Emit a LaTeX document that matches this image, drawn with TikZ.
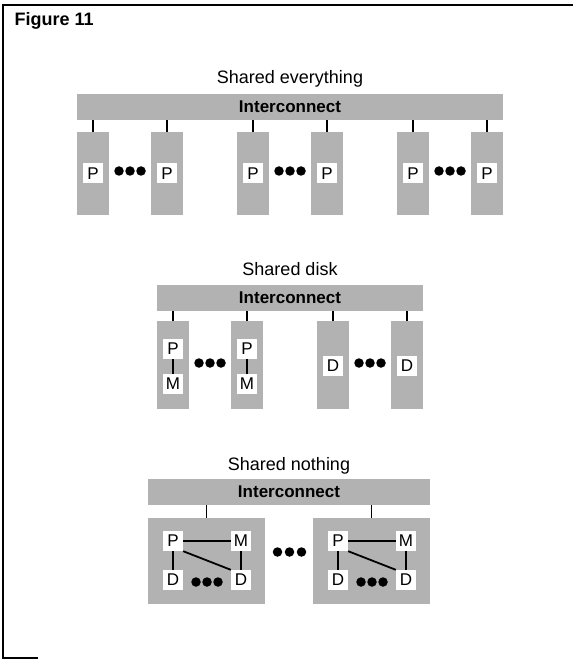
\documentclass[tikz,border=0pt]{standalone}
\usepackage{fontspec}
\setmainfont{Liberation Sans}
\usetikzlibrary{positioning}
\tikzset{>=latex}

\begin{document}
\begin{tikzpicture}[x=1pt,y=-1pt,
    bus/.style={fill=black!30, minimum height=26pt, inner sep=0pt, font=\fontsize{17}{18}\selectfont\bfseries},
    col/.style={fill=black!30, minimum width=32pt, inner sep=0pt},
    unit/.style={fill=white, minimum size=20pt, inner sep=0pt, font=\fontsize{17}{18}\selectfont},
    title/.style={anchor=base, font=\fontsize{18}{20}\selectfont},
    dot/.style={circle, fill, inner sep=0pt, minimum size=9.5pt},
    tick/.style={line width=1.3pt},
    wire/.style={line width=1.8pt}]
    \useasboundingbox (0,0) rectangle (573,660);
    \draw[line width=1.4pt] (573,5) -- (3,5) -- (3,658) -- (38,658);
    \node[anchor=base west, font=\fontsize{18}{20}\selectfont\bfseries] (fig) at (11,26) {Figure 11};

    % shared everything
    \node[title] (t1) at (290,84) {Shared everything};
    \node[bus, minimum width=426pt] (bus1) at (290,107) {Interconnect};
    \node[col, minimum height=83pt] (ev1) at (93,173.5) {};
    \node[col, minimum height=83pt] (ev2) at (167,173.5) {};
    \node[col, minimum height=83pt] (ev3) at (253,173.5) {};
    \node[col, minimum height=83pt] (ev4) at (327,173.5) {};
    \node[col, minimum height=83pt] (ev5) at (413,173.5) {};
    \node[col, minimum height=83pt] (ev6) at (487,173.5) {};
    \foreach \c in {ev1,ev2,ev3,ev4,ev5,ev6} {
      \node[unit] (p-\c) at (\c) {P};
      \draw[tick] (\c.north) -- (\c.north |- bus1.south);
    }
    \foreach \x in {130,290,450}
      \foreach \dx in {-11,0,11} \node[dot] at (\x+\dx,171) {};

    % shared disk
    \node[title] (t2) at (290,275) {Shared disk};
    \node[bus, minimum width=266pt] (bus2) at (290,298) {Interconnect};
    \node[col, minimum height=88pt] (dk1) at (173,365) {};
    \node[col, minimum height=88pt] (dk2) at (247,365) {};
    \node[col, minimum height=88pt] (dk3) at (333,365) {};
    \node[col, minimum height=88pt] (dk4) at (407,365) {};
    \foreach \c in {dk1,dk2,dk3,dk4}
      \draw[tick] (\c.north) -- (\c.north |- bus2.south);
    \node[unit] (p-dk1) at (173,349) {P};
    \node[unit] (m-dk1) at (173,384) {M};
    \node[unit] (p-dk2) at (247,349) {P};
    \node[unit] (m-dk2) at (247,384) {M};
    \draw[wire] (p-dk1) -- (m-dk1);
    \draw[wire] (p-dk2) -- (m-dk2);
    \node[unit] (d-dk3) at (333,366) {D};
    \node[unit] (d-dk4) at (407,366) {D};
    \foreach \x in {210,370}
      \foreach \dx in {-11,0,11} \node[dot] at (\x+\dx,363) {};

    % shared nothing
    \node[title] (t3) at (289,470) {Shared nothing};
    \node[bus, minimum width=282pt] (bus3) at (289,492) {Interconnect};
    \node[col, minimum width=117pt, minimum height=86pt] (nt1) at (206.5,561) {};
    \node[col, minimum width=117pt, minimum height=86pt] (nt2) at (371.5,561) {};
    \draw[tick] (nt1.north) -- (nt1.north |- bus3.south);
    \draw[tick] (nt2.north) -- (nt2.north |- bus3.south);
    \foreach \c/\x in {nt1/173,nt2/338} {
      \node[unit] (p-\c) at (\x,541) {P};
      \node[unit] (m-\c) at (\x+68,541) {M};
      \node[unit] (da-\c) at (\x,580) {D};
      \node[unit] (db-\c) at (\x+68,580) {D};
      \draw[wire] (p-\c) -- (m-\c);
      \draw[wire] (p-\c) -- (da-\c);
      \draw[wire] (m-\c) -- (db-\c);
      \draw[wire] (p-\c.south east) -- (db-\c.north west);
      \foreach \dx in {-11,0,11} \node[dot] at (\x+34+\dx,582) {};
    }
    \foreach \dx in {-12,0,12} \node[dot] at (289.5+\dx,552) {};
\end{tikzpicture}
\end{document}
